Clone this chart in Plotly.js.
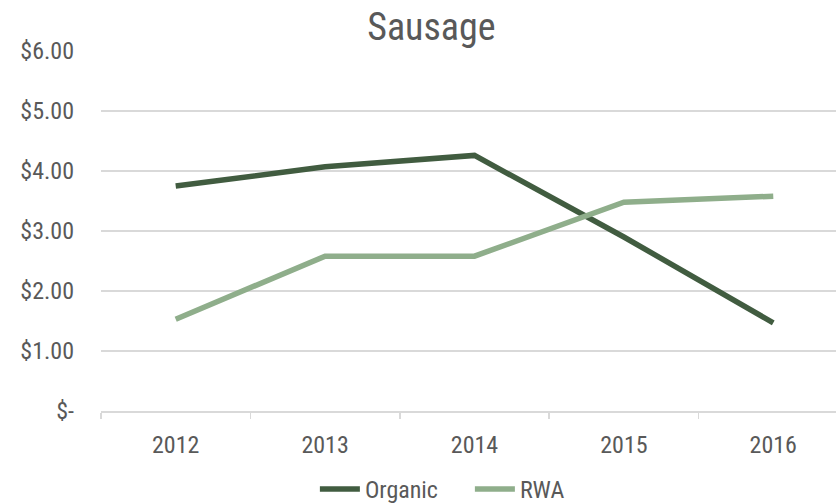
<!DOCTYPE html>
<html>
<head>
<meta charset="utf-8">
<script src="https://cdn.plot.ly/plotly-3.0.1.min.js"></script>
<style>html,body{margin:0;padding:0;background:#fff;}#chart{width:836px;height:504px;}</style>
</head>
<body>
<div id="chart"></div>
<script>
const years = ["2012", "2013", "2014", "2015", "2016"];
const organic = [3.75, 4.07, 4.26, 2.90, 1.47];
const rwa = [1.53, 2.58, 2.58, 3.48, 3.58];
const yTickVals = [0, 1, 2, 3, 4, 5, 6];
const yTickText = ["$-", "$1.00", "$2.00", "$3.00", "$4.00", "$5.00", "$6.00"];

const FONT = "'Liberation Sans Narrow', 'Arial Narrow', 'Roboto Condensed', Arial, sans-serif";
const TXT = "#595959";

const traces = [
  {x: years, y: organic, name: "Organic", type: "scatter", mode: "lines",
   line: {color: "#415c40", width: 5.5}},
  {x: years, y: rwa, name: "RWA", type: "scatter", mode: "lines",
   line: {color: "#8fae8b", width: 5.5}}
];

const layout = {
  width: 836, height: 504,
  margin: {l: 101, r: 0, t: 50.7, b: 93.3, autoexpand: false},
  paper_bgcolor: "#fff", plot_bgcolor: "#fff",
  font: {family: FONT, color: TXT},
  title: {text: "Sausage", font: {size: 38, color: TXT, family: FONT},
          x: 0.516, xanchor: "center", y: 0.948, yanchor: "middle"},
  xaxis: {type: "category", range: [-0.5, 4.42], autorange: false, automargin: false,
          showgrid: false, zeroline: false,
          showline: true, linecolor: "#d9d9d9", linewidth: 1.5,
          ticks: "outside", tickson: "boundaries", ticklen: 6, tickcolor: "#d9d9d9", tickwidth: 1.5,
          tickfont: {size: 24, color: TXT, family: FONT}, ticklabelstandoff: 12},
  yaxis: {range: [0, 6], autorange: false, automargin: false, tickvals: yTickVals, ticktext: yTickText,
          showgrid: true, gridcolor: "#d9d9d9", gridwidth: 1.5, zeroline: false,
          showline: false, ticks: "", ticklabelstandoff: 26,
          tickfont: {size: 24, color: TXT, family: FONT}},
  showlegend: true,
  legend: {orientation: "h", x: 0.291, xanchor: "left", y: -0.218, yanchor: "middle",
           font: {size: 24, color: TXT, family: FONT}, itemwidth: 40, tracegroupgap: 0,
           entrywidth: 100, entrywidthmode: "pixels"},
  shapes: []
};

Plotly.newPlot("chart", traces, layout, {displayModeBar: false, staticPlot: true});
</script>
</body>
</html>
